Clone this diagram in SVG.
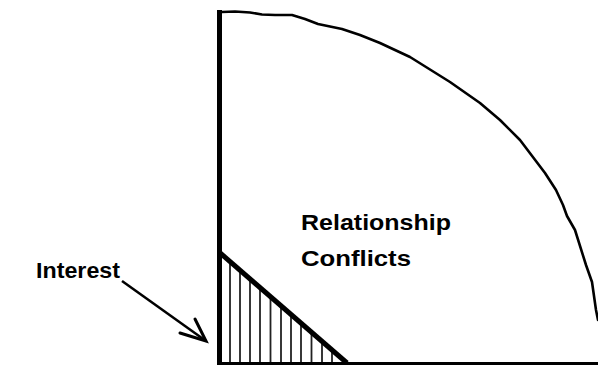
<svg xmlns="http://www.w3.org/2000/svg" width="598" height="365" viewBox="0 0 598 365">
<style>
.lbl{font-family:"Liberation Sans",Arial,sans-serif;font-weight:bold;font-size:22px;fill:#000}
.hatch{stroke:#222;stroke-width:1.8}
</style>
<rect width="598" height="365" fill="#fff"/>
<g id="relationship-conflicts">
<polyline fill="none" stroke="#000" stroke-width="2.6" stroke-linejoin="round" stroke-linecap="round" points="222,12 235,11.5 250,12.5 262,14.5 275,15 292,15 305,19 318,24 330,26.5 342,29 360,35 380,43 410,57 450,82 480,103 500,120 520,140 545,173 556,190 563,205 567,216 575,230 586,265 592,282 596,310 598,320"/>
<text class="lbl" x="301" y="230" textLength="150" lengthAdjust="spacingAndGlyphs">Relationship</text>
<text class="lbl" x="301" y="266" textLength="110" lengthAdjust="spacingAndGlyphs">Conflicts</text>
</g>
<g id="interest">
<g class="hatch">
<line x1="230" y1="261" x2="230" y2="362"/>
<line x1="240" y1="270" x2="240" y2="362"/>
<line x1="250" y1="279" x2="250" y2="362"/>
<line x1="260" y1="287" x2="260" y2="362"/>
<line x1="270.5" y1="296" x2="270.5" y2="362"/>
<line x1="281" y1="305" x2="281" y2="362"/>
<line x1="291" y1="314" x2="291" y2="362"/>
<line x1="301" y1="323" x2="301" y2="362"/>
<line x1="311.5" y1="332" x2="311.5" y2="362"/>
<line x1="322" y1="341" x2="322" y2="362"/>
<line x1="332" y1="350" x2="332" y2="362"/>
</g>
<line x1="219" y1="252" x2="347" y2="363" stroke="#000" stroke-width="5"/>
<text class="lbl" x="36" y="278" font-size="20" textLength="84" lengthAdjust="spacingAndGlyphs">Interest</text>
</g>
<g id="axes">
<line x1="219.5" y1="10" x2="219.5" y2="365" stroke="#000" stroke-width="5"/>
<line x1="217" y1="363.5" x2="598" y2="363.5" stroke="#000" stroke-width="3"/>
</g>
<g id="connectors">
<line x1="122" y1="281" x2="206" y2="341" stroke="#000" stroke-width="2.5"/>
<polyline points="180,333 206,341 195,319" fill="none" stroke="#000" stroke-width="3" stroke-linejoin="miter" stroke-linecap="round"/>
</g>
</svg>
